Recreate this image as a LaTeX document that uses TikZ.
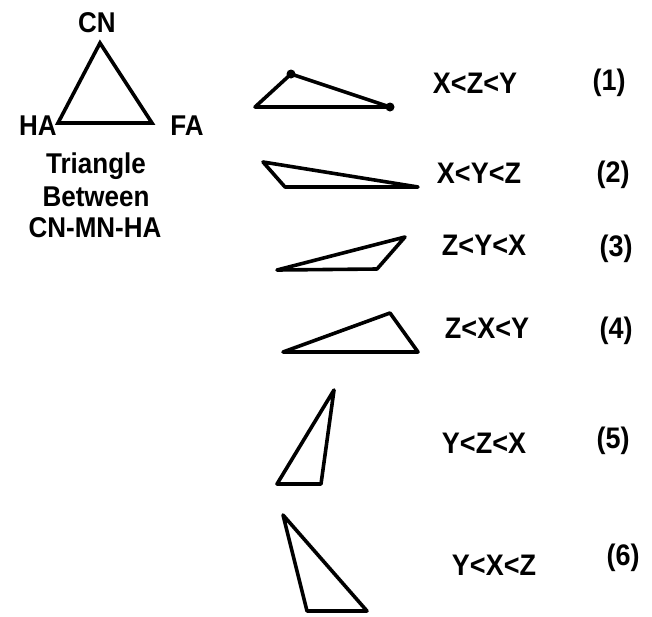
\documentclass[tikz,border=0pt]{standalone}
\usepackage{graphicx}
\usepackage{fontspec}
\setmainfont{Liberation Sans}
% bold text, slightly stretched vertically
\newcommand{\tallbold}[2]{\scalebox{1}[1.1]{\bfseries\fontsize{#1}{#1}\selectfont #2}}
\begin{document}
\begin{tikzpicture}[x=1pt,y=-1pt,
  lbl/.style={inner sep=0pt, anchor=base},
  tri/.style={line width=3.6pt, line join=round, line cap=round, black},
  vdot/.style={circle, fill=black, inner sep=0pt, minimum size=9pt}]
\useasboundingbox (0,0) rectangle (652,616);

% reference triangle CN / HA / FA
\coordinate (cn) at (100,43);
\coordinate (ha) at (58,123);
\coordinate (fa) at (152,123);
\draw[tri, line join=miter] (cn) -- (ha) -- (fa) -- cycle;
\node[lbl] (tcn) at (97,32) {\tallbold{26}{CN}};
\node[lbl] (tha) at (38,135) {\tallbold{26}{HA}};
\node[lbl] (tfa) at (187,135) {\tallbold{26}{FA}};
\node[lbl] (cap1) at (96,173) {\tallbold{26}{Triangle}};
\node[lbl] (cap2) at (96,206) {\tallbold{26}{Between}};
\node[lbl] (cap3) at (95,237) {\tallbold{26}{CN-MN-HA}};

% case (1)
\coordinate (a1) at (255,107);
\coordinate (b1) at (291,74);
\coordinate (c1) at (390,107);
\draw[tri] (a1) -- (b1) -- (c1) -- cycle;
\node[vdot] (d1) at (b1) {};
\node[vdot] (e1) at (c1) {};
\node[lbl] (o1) at (475,93) {\tallbold{27}{X<Z<Y}};
\node[lbl] (n1) at (609,90) {\tallbold{27}{(1)}};

% case (2)
\coordinate (a2) at (263,162);
\coordinate (b2) at (285,187);
\coordinate (c2) at (418,187);
\draw[tri] (a2) -- (b2) -- (c2) -- cycle;
\node[lbl] (o2) at (479,183) {\tallbold{27}{X<Y<Z}};
\node[lbl] (n2) at (613,182) {\tallbold{27}{(2)}};

% case (3)
\coordinate (a3) at (277,270);
\coordinate (b3) at (405,237);
\coordinate (c3) at (377,269);
\draw[tri] (a3) -- (b3) -- (c3) -- cycle;
\node[lbl] (o3) at (484,255) {\tallbold{27}{Z<Y<X}};
\node[lbl] (n3) at (616,256) {\tallbold{27}{(3)}};

% case (4)
\coordinate (a4) at (283,352);
\coordinate (b4) at (390,313);
\coordinate (c4) at (418,352);
\draw[tri] (a4) -- (b4) -- (c4) -- cycle;
\node[lbl] (o4) at (487,338) {\tallbold{27}{Z<X<Y}};
\node[lbl] (n4) at (616,338) {\tallbold{27}{(4)}};

% case (5)
\coordinate (a5) at (334,390);
\coordinate (b5) at (277,484);
\coordinate (c5) at (321,484);
\draw[tri] (a5) -- (b5) -- (c5) -- cycle;
\node[lbl] (o5) at (484,453) {\tallbold{27}{Y<Z<X}};
\node[lbl] (n5) at (613,448) {\tallbold{27}{(5)}};

% case (6)
\coordinate (a6) at (283,515);
\coordinate (b6) at (307,611);
\coordinate (c6) at (367,611);
\draw[tri] (a6) -- (b6) -- (c6) -- cycle;
\node[lbl] (o6) at (494,575) {\tallbold{27}{Y<X<Z}};
\node[lbl] (n6) at (623,565) {\tallbold{27}{(6)}};
\end{tikzpicture}
\end{document}
